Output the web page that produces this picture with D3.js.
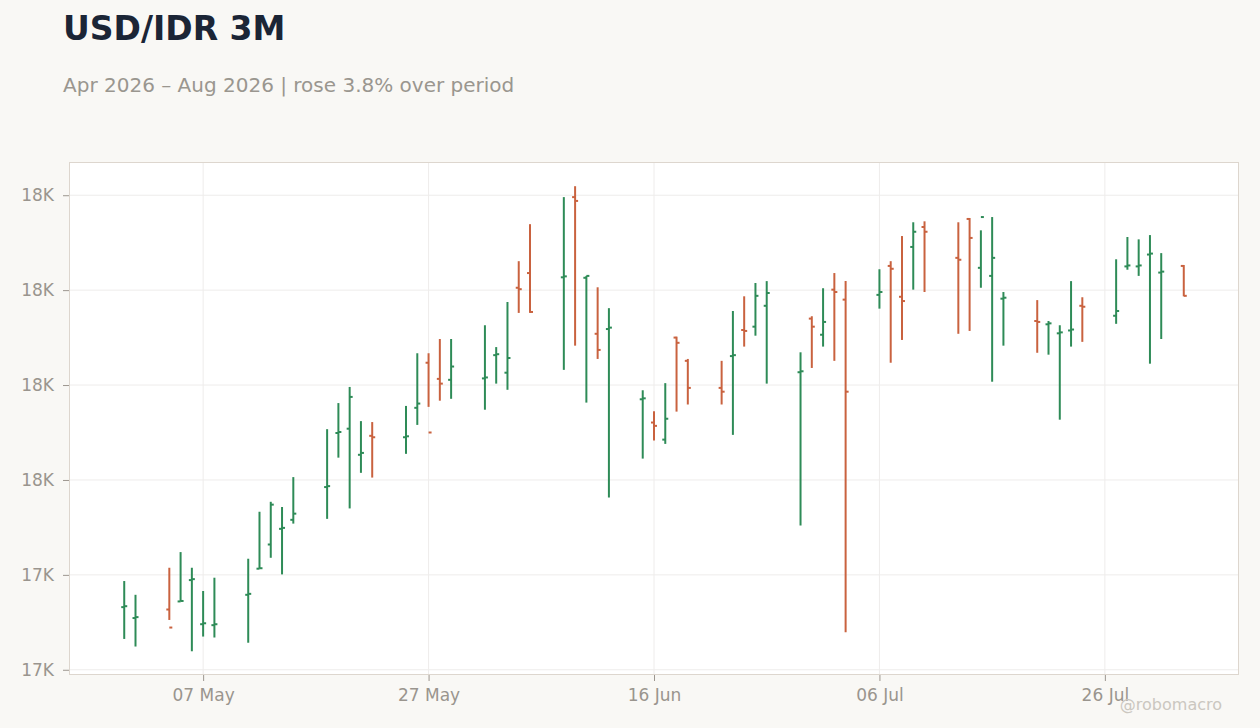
<!DOCTYPE html>
<html lang="en">

<head>
    <meta charset="UTF-8">
    <title>USD/IDR 3M</title>
    <script src="https://cdn.jsdelivr.net/npm/d3@7"></script>
    <style>
        body { margin: 0; background: #f9f8f5; }
        svg { display: block; font-family: "DejaVu Sans", sans-serif; }
    </style>
</head>

<body>
    <svg id="chart" width="1260" height="728"></svg>
    <script>
        // daily OHLC
        var dates = ["2026-04-30", "2026-05-01", "2026-05-04", "2026-05-05", "2026-05-06", "2026-05-07", "2026-05-08",
            "2026-05-11", "2026-05-12", "2026-05-13", "2026-05-14", "2026-05-15",
            "2026-05-18", "2026-05-19", "2026-05-20", "2026-05-21", "2026-05-22",
            "2026-05-25", "2026-05-26", "2026-05-27", "2026-05-28", "2026-05-29",
            "2026-06-01", "2026-06-02", "2026-06-03", "2026-06-04", "2026-06-05",
            "2026-06-08", "2026-06-09", "2026-06-10", "2026-06-11", "2026-06-12",
            "2026-06-15", "2026-06-16", "2026-06-17", "2026-06-18", "2026-06-19",
            "2026-06-22", "2026-06-23", "2026-06-24", "2026-06-25", "2026-06-26",
            "2026-06-29", "2026-06-30", "2026-07-01", "2026-07-02", "2026-07-03",
            "2026-07-06", "2026-07-07", "2026-07-08", "2026-07-09", "2026-07-10",
            "2026-07-13", "2026-07-14", "2026-07-15", "2026-07-16", "2026-07-17",
            "2026-07-20", "2026-07-21", "2026-07-22", "2026-07-23", "2026-07-24",
            "2026-07-27", "2026-07-28", "2026-07-29", "2026-07-30", "2026-07-31", "2026-08-02"];

        var opens = [17332, 17309, 17327, 17344, 17389, 17296, 17294,
            17358, 17413, 17464, 17497, 17516,
            17585, 17699, 17708, 17653, 17693,
            17690, 17752, 17847, 17813, 17811,
            17814, 17863, 17826, 18005, 18036,
            18027, 18196, 18026, 17908, 17918,
            17770, 17721, 17685, 17900, 17851,
            17794, 17861, 17916, 17923, 17967,
            17827, 17940, 17906, 18001, 17980,
            17990, 18051, 17986, 18091, 18133,
            18068, 18150, 18047, 18030, 17982,
            17935, 17928, 17909, 17915, 17967,
            17946, 18050, 18050, 18075, 18037, 18051];

        var highs = [17387, 17358, 17415, 17448, 17415, 17366, 17394,
            17434, 17533, 17554, 17543, 17606,
            17707, 17762, 17796, 17724, 17722,
            17756, 17867, 17867, 17897, 17897,
            17926, 17880, 17975, 18061, 18139,
            18196, 18219, 18030, 18006, 17962,
            17789, 17745, 17804, 17902, 17855,
            17851, 17956, 17987, 18015, 18019,
            17869, 17945, 18004, 18036, 18019,
            18044, 18061, 18114, 18143, 18145,
            18143, 18152, 18126, 18154, 17996,
            17979, 17935, 17926, 18019, 17985,
            18065, 18112, 18107, 18116, 18078, 18053];

        var lows = [17265, 17249, 17305, 17344, 17239, 17270, 17268,
            17257, 17413, 17436, 17401, 17508,
            17518, 17647, 17540, 17615, 17605,
            17655, 17716, 17754, 17767, 17771,
            17748, 17803, 17790, 17952, 17952,
            17832, 17883, 17763, 17855, 17563,
            17645, 17683, 17676, 17744, 17759,
            17759, 17695, 17881, 17904, 17803,
            17504, 17836, 17881, 17851, 17279,
            17961, 17847, 17895, 18001, 17996,
            17908, 17914, 18005, 17807, 17883,
            17868, 17864, 17727, 17881, 17891,
            17929, 18043, 18030, 17845, 17897, 17987];

        var closes = [17334, 17311, 17289, 17345, 17391, 17298, 17296,
            17360, 17414, 17548, 17499, 17529,
            17587, 17701, 17775, 17657, 17690,
            17692, 17761, 17700, 17803, 17839,
            17816, 17865, 17857, 18002, 17954,
            18029, 18188, 18030, 17874, 17921,
            17772, 17714, 17729, 17889, 17794,
            17786, 17863, 17914, 17988, 17994,
            17829, 17923, 17933, 17996, 17786,
            17996, 18045, 17977, 18123, 18123,
            18064, 18110, 18154, 18068, 17984,
            17933, 17930, 17911, 17917, 17965,
            17956, 18052, 18052, 18077, 18039, 17988];

        var yTicks = [17200, 17400, 17600, 17800, 18000, 18200];
        var xTicks = ["2026-05-07", "2026-05-27", "2026-06-16", "2026-07-06", "2026-07-26"];

        var upColor = "#2e8b57";
        var downColor = "#c9623f";
        var margin = { top: 162, right: 21, bottom: 53, left: 69 };
        var W = 1260, H = 728;

        function init() {
            var svg = d3.select("#chart");
            var parse = d3.utcParse("%Y-%m-%d");

            var bars = dates.map(function (d, i) {
                return { date: parse(d), open: opens[i], high: highs[i], low: lows[i], close: closes[i] };
            });

            var pad = 4.9 * 864e5; // days of padding either side
            var ext = d3.extent(bars, function (d) { return d.date; });
            var x = d3.scaleUtc()
                .domain([new Date(+ext[0] - pad), new Date(+ext[1] + pad)])
                .range([margin.left, W - margin.right]);
            var y = d3.scaleLinear()
                .domain([17189, 18270])
                .range([H - margin.bottom, margin.top]);

            //plot background
            svg.append("rect")
                .attr("x", margin.left).attr("y", margin.top)
                .attr("width", W - margin.left - margin.right)
                .attr("height", H - margin.top - margin.bottom)
                .attr("fill", "#ffffff");

            //grid
            svg.append("g").selectAll("line").data(yTicks).enter().append("line")
                .attr("x1", margin.left).attr("x2", W - margin.right)
                .attr("y1", function (d) { return y(d); }).attr("y2", function (d) { return y(d); })
                .attr("stroke", "#eeeceb").attr("stroke-width", 1);
            svg.append("g").selectAll("line").data(xTicks.map(parse)).enter().append("line")
                .attr("x1", function (d) { return x(d); }).attr("x2", function (d) { return x(d); })
                .attr("y1", margin.top).attr("y2", H - margin.bottom)
                .attr("stroke", "#eeeceb").attr("stroke-width", 1);

            //frame
            svg.append("rect")
                .attr("x", margin.left + 0.5).attr("y", margin.top + 0.5)
                .attr("width", W - margin.left - margin.right - 1)
                .attr("height", H - margin.top - margin.bottom - 1)
                .attr("fill", "none").attr("stroke", "#ddd6ce");

            //axes
            var fmt = d3.format(".2s");
            var yAxis = svg.append("g")
                .attr("transform", "translate(" + margin.left + ",0)")
                .call(d3.axisLeft(y).tickValues(yTicks).tickSize(6).tickPadding(9)
                    .tickFormat(function (d) { return fmt(d).replace("k", "K"); }));
            var xAxis = svg.append("g")
                .attr("transform", "translate(0," + (H - margin.bottom) + ")")
                .call(d3.axisBottom(x).tickValues(xTicks.map(parse)).tickSize(6).tickPadding(8)
                    .tickFormat(d3.utcFormat("%d %b")));
            [yAxis, xAxis].forEach(function (a) {
                a.select(".domain").remove();
                a.selectAll(".tick line").attr("stroke", "#9c968f");
                a.selectAll(".tick text").attr("fill", "#9a958e")
                    .attr("font-size", "17px").attr("font-family", "DejaVu Sans");
            });

            //ohlc bars
            var g = svg.append("g").selectAll("g").data(bars).enter().append("g")
                .attr("stroke", function (d) { return d.close >= d.open ? upColor : downColor; })
                .attr("stroke-width", 2);
            g.append("line")
                .attr("x1", function (d) { return x(d.date); }).attr("x2", function (d) { return x(d.date); })
                .attr("y1", function (d) { return y(d.high); }).attr("y2", function (d) { return y(d.low); });
            g.append("line")
                .attr("x1", function (d) { return x(d.date) - 3; }).attr("x2", function (d) { return x(d.date); })
                .attr("y1", function (d) { return y(d.open); }).attr("y2", function (d) { return y(d.open); });
            g.append("line")
                .attr("x1", function (d) { return x(d.date); }).attr("x2", function (d) { return x(d.date) + 3; })
                .attr("y1", function (d) { return y(d.close); }).attr("y2", function (d) { return y(d.close); });

            //titles
            svg.append("text").attr("x", 63).attr("y", 40)
                .attr("font-size", "33px").attr("font-weight", "bold").attr("fill", "#1b2536")
                .text("USD/IDR 3M");
            var first = bars[0].close, last = bars[bars.length - 1].close;
            var chg = (last / first - 1) * 100;
            svg.append("text").attr("x", 63).attr("y", 92)
                .attr("font-size", "20px").attr("fill", "#9a968f")
                .text("Apr 2026 – Aug 2026 | " + (chg >= 0 ? "rose " : "fell ") + Math.abs(chg).toFixed(1) + "% over period");
            svg.append("text").attr("x", 1222).attr("y", 710)
                .attr("text-anchor", "end").attr("font-size", "16px").attr("fill", "#cbc7c0")
                .text("@robomacro");
        }

        window.onload = function () {
            init();
        };
    </script>
</body>

</html>
